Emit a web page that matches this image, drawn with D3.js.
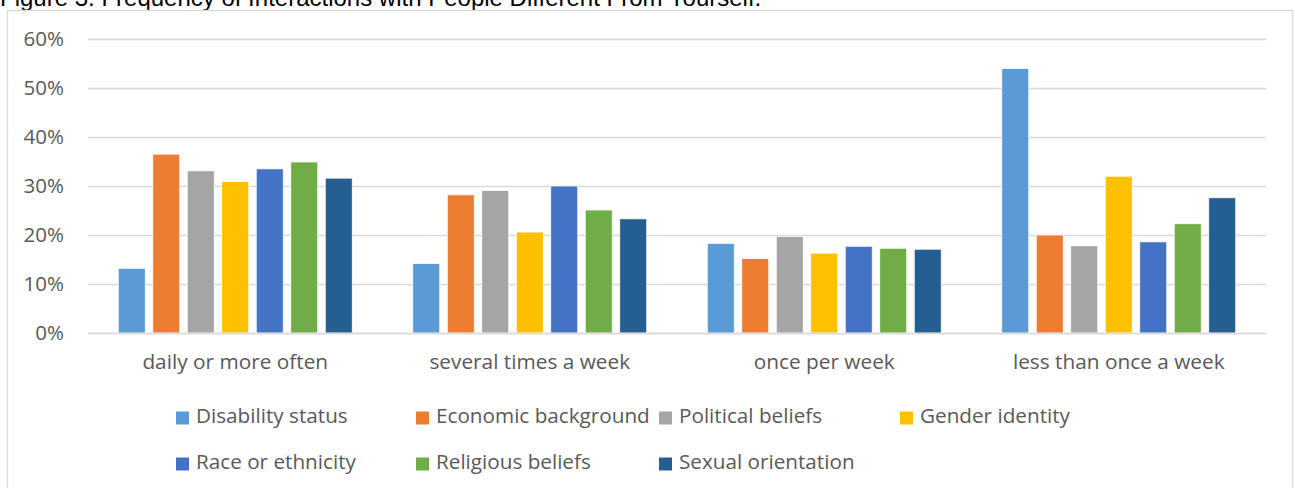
<!DOCTYPE html>
<html>
<head>
<meta charset="utf-8">
<script src="https://cdn.jsdelivr.net/npm/d3@7"></script>
<style>
  html, body { margin: 0; padding: 0; background: #fff; }
  svg { display: block; }
</style>
</head>
<body>
<svg id="chart" width="1295" height="488"></svg>
<script>
// Interaction frequency categories (x axis)
const categories = ["daily or more often", "several times a week", "once per week", "less than once a week"];

// Dimensions of difference (series)
const seriesNames = ["Disability status", "Economic background", "Political beliefs", "Gender identity",
                     "Race or ethnicity", "Religious beliefs", "Sexual orientation"];
const seriesColors = ["#5b9bd5", "#ed7d31", "#a5a5a5", "#ffc000", "#4472c4", "#70ad47", "#255e91"];

// Share of respondents (%) per series, in category order
const disability = [13.2, 14.2, 18.3, 54.0];
const economic   = [36.5, 28.2, 15.2, 20.0];
const political  = [33.1, 29.1, 19.7, 17.8];
const gender     = [30.9, 20.6, 16.3, 32.0];
const race       = [33.5, 30.0, 17.7, 18.6];
const religious  = [34.9, 25.1, 17.3, 22.3];
const sexual     = [31.6, 23.3, 17.1, 27.6];
const seriesValues = [disability, economic, political, gender, race, religious, sexual];

const yTicks = [0, 10, 20, 30, 40, 50, 60];

const titleText = "Figure 3. Frequency of Interactions with People Different From Yourself.";

const svg = d3.select("#chart");
const font = "'Open Sans', 'Noto Sans', sans-serif";

// Title, partly above the top edge
svg.append("text")
  .attr("x", 0).attr("y", 6)
  .attr("font-family", "Arial, 'Liberation Sans', sans-serif")
  .attr("font-size", 24)
  .attr("fill", "#000")
  .text(titleText);

// Chart area frame
svg.append("rect")
  .attr("x", 7.5).attr("y", 10.5)
  .attr("width", 1285).attr("height", 500)
  .attr("fill", "#fff")
  .attr("stroke", "#d9d9d9").attr("stroke-width", 1.3);

const plot = { left: 88, right: 1266, top: 39, bottom: 333 };

const y = d3.scaleLinear().domain([0, 60]).range([plot.bottom, plot.top]);
const x0 = d3.scaleBand().domain(categories).range([plot.left, plot.right]).padding(0);
const x1 = d3.scaleBand().domain(seriesNames).range([0, x0.bandwidth()])
  .paddingInner(0.217).paddingOuter(0.877);
const color = d3.scaleOrdinal().domain(seriesNames).range(seriesColors);

// Gridlines and y labels
const yAxis = d3.axisLeft(y).tickValues(yTicks)
  .tickSize(-(plot.right - plot.left)).tickPadding(24)
  .tickFormat(d => d + "%");
const gy = svg.append("g").attr("transform", `translate(${plot.left},0)`).call(yAxis);
gy.select(".domain").remove();
gy.selectAll(".tick line").attr("stroke", "#d9d9d9").attr("stroke-width", 1.5);
gy.selectAll(".tick text")
  .attr("font-family", font).attr("font-size", 20.5).attr("fill", "#595959");

// Bars
const groups = svg.append("g").selectAll("g")
  .data(categories)
  .join("g")
  .attr("transform", d => `translate(${x0(d)},0)`);

groups.selectAll("rect")
  .data((c, ci) => seriesNames.map((s, si) => ({ s, v: seriesValues[si][ci] })))
  .join("rect")
  .attr("x", d => x1(d.s))
  .attr("width", x1.bandwidth())
  .attr("y", d => y(d.v))
  .attr("height", d => y(0) - y(d.v))
  .attr("fill", d => color(d.s))
  .attr("stroke", "#fff").attr("stroke-width", 0.8);

// Category labels
const xAxis = d3.axisBottom(x0).tickSize(0).tickPadding(21);
const gx = svg.append("g").attr("transform", `translate(0,${plot.bottom})`).call(xAxis);
gx.select(".domain").attr("stroke", "#d9d9d9").attr("stroke-width", 1.5);
gx.selectAll(".tick text")
  .attr("font-family", font).attr("font-size", 20.8).attr("fill", "#595959");

// Legend
const legendTextX = [196, 436, 679, 920];
const legendRowY = [416, 462];
const legend = svg.append("g").selectAll("g")
  .data(seriesNames)
  .join("g")
  .attr("transform", (d, i) => `translate(${legendTextX[i % 4]},${legendRowY[Math.floor(i / 4)]})`);
legend.append("rect")
  .attr("x", -20).attr("y", -4.5)
  .attr("width", 13).attr("height", 13)
  .attr("fill", d => color(d));
legend.append("text")
  .attr("x", 0).attr("y", 0).attr("dy", "0.35em")
  .attr("font-family", font).attr("font-size", 20.7).attr("fill", "#595959")
  .text(d => d);
</script>
</body>
</html>
